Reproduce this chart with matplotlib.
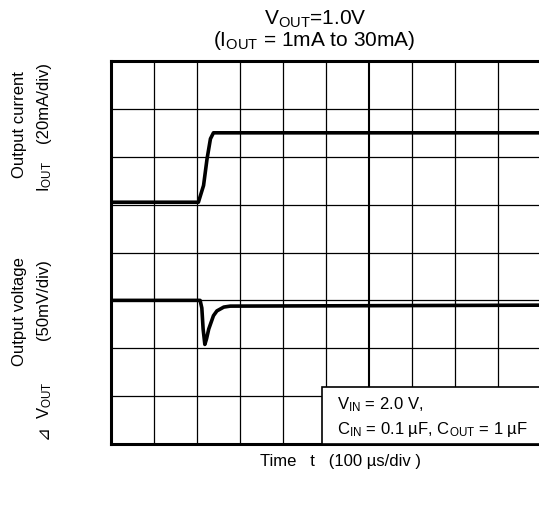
import matplotlib
matplotlib.use('Agg')
import matplotlib.pyplot as plt
from matplotlib.patches import Rectangle

plt.rcParams['font.family'] = ['Liberation Sans', 'DejaVu Sans']
plt.rcParams['mathtext.fontset'] = 'custom'
plt.rcParams['mathtext.rm'] = 'Liberation Sans'
plt.rcParams['mathtext.it'] = 'Liberation Sans:italic'
plt.rcParams['mathtext.bf'] = 'Liberation Sans:bold'

# ---------------- data ----------------
time_per_div_us = 100
iout_per_div_mA = 20
vout_per_div_mV = 50
n_xdiv = 10
n_ydiv = 8

# Output current trace (time in us, current in mA)
t_iout = [0, 203, 215, 223, 231, 238, 1000]
iout_mA = [1, 1, 8, 19, 27.5, 30, 30]

# Output voltage deviation trace (time in us, deviation in mV)
t_vout = [0, 207, 211, 214, 218, 222, 227, 238, 246, 262, 277, 1000]
dvout_mV = [0, 0, -8, -30, -46, -40, -30, -16, -11, -7, -6, -5]

# trace reference levels on screen (divisions from bottom)
iout_ref_div = 5.05
vout_ref_div = 3.0

# ---------------- figure ----------------
W, H = 539, 510
DPI = 100
fig = plt.figure(figsize=(W / DPI, H / DPI), dpi=DPI)
left, top, bottom = 111, 62, 445
width_px = 430.5
ax = fig.add_axes([left / W, 1 - bottom / H, width_px / W, (bottom - top) / H])
ax.set_xlim(0, n_xdiv)
ax.set_ylim(0, n_ydiv)
ax.set_xticks([])
ax.set_yticks([])
for s in ['left', 'top', 'bottom']:
    ax.spines[s].set_linewidth(2.2)
ax.spines['right'].set_visible(False)

# grid
for i in range(1, n_xdiv):
    ax.axvline(i, color='black', lw=1.5 if i == 6 else 0.9, zorder=1)
for j in range(1, n_ydiv):
    ax.axhline(j, color='black', lw=0.9, zorder=1)

# traces
xi = [t / time_per_div_us for t in t_iout]
yi = [iout_ref_div + (v - iout_mA[0]) / iout_per_div_mA for v in iout_mA]
ax.plot(xi, yi, color='black', lw=2.6, solid_joinstyle='round', zorder=3)

xv = [t / time_per_div_us for t in t_vout]
yv = [vout_ref_div + v / vout_per_div_mV for v in dvout_mV]
ax.plot(xv, yv, color='black', lw=2.6, solid_joinstyle='round', zorder=3)


def fx(px):
    return px / W


def fy(py):
    return 1 - py / H


# condition box
box_x0 = (321.7 - left) / width_px * n_xdiv
box_y1 = (bottom - 388) / (bottom - top) * n_ydiv
ax.add_patch(Rectangle((box_x0, 0), n_xdiv - box_x0 + 0.5, box_y1,
                       facecolor='white', edgecolor='black', lw=1.2, zorder=4,
                       clip_on=True))
fig.text(fx(337), fy(405), r'V$_{\mathrm{IN}}$ = 2.0 V,', fontsize=12,
         ha='left', va='center', zorder=5)
fig.text(fx(337), fy(430),
         'C$_{\\mathrm{IN}}$ = 0.1 \u00b5F, C$_{\\mathrm{OUT}}$ = 1 \u00b5F',
         fontsize=12, ha='left', va='center', zorder=5)

# title
fig.text(fx(315), fy(19), r'V$_{\mathrm{OUT}}$=1.0V', fontsize=15,
         ha='center', va='center')
fig.text(fx(314), fy(41), r'(I$_{\mathrm{OUT}}$ = 1mA to 30mA)', fontsize=15,
         ha='center', va='center')

# left labels
lab_fs = 12
fig.text(fx(20), fy(125), 'Output current', rotation=90, fontsize=lab_fs,
         ha='center', va='center')
fig.text(fx(43), fy(62), '(20mA/div)', rotation=90, fontsize=lab_fs,
         ha='center', va='top')
fig.text(fx(45), fy(192), r'I$_{\mathrm{OUT}}$', rotation=90, fontsize=lab_fs,
         ha='center', va='bottom')

fig.text(fx(20), fy(312), 'Output voltage', rotation=90, fontsize=lab_fs,
         ha='center', va='center')
fig.text(fx(43), fy(259), '(50mV/div)', rotation=90, fontsize=lab_fs,
         ha='center', va='top')
fig.text(fx(45), fy(419), r'V$_{\mathrm{OUT}}$', rotation=90, fontsize=lab_fs,
         ha='center', va='bottom')
fig.text(fx(43), fy(432), '\u22bf', rotation=90, fontsize=12,
         ha='center', va='center', family=['DejaVu Sans'])

# x label
fig.text(fx(340), fy(462), 'Time   t   (100 \u00b5s/div )', fontsize=12,
         ha='center', va='center')

fig.savefig('out.png', dpi=DPI)
